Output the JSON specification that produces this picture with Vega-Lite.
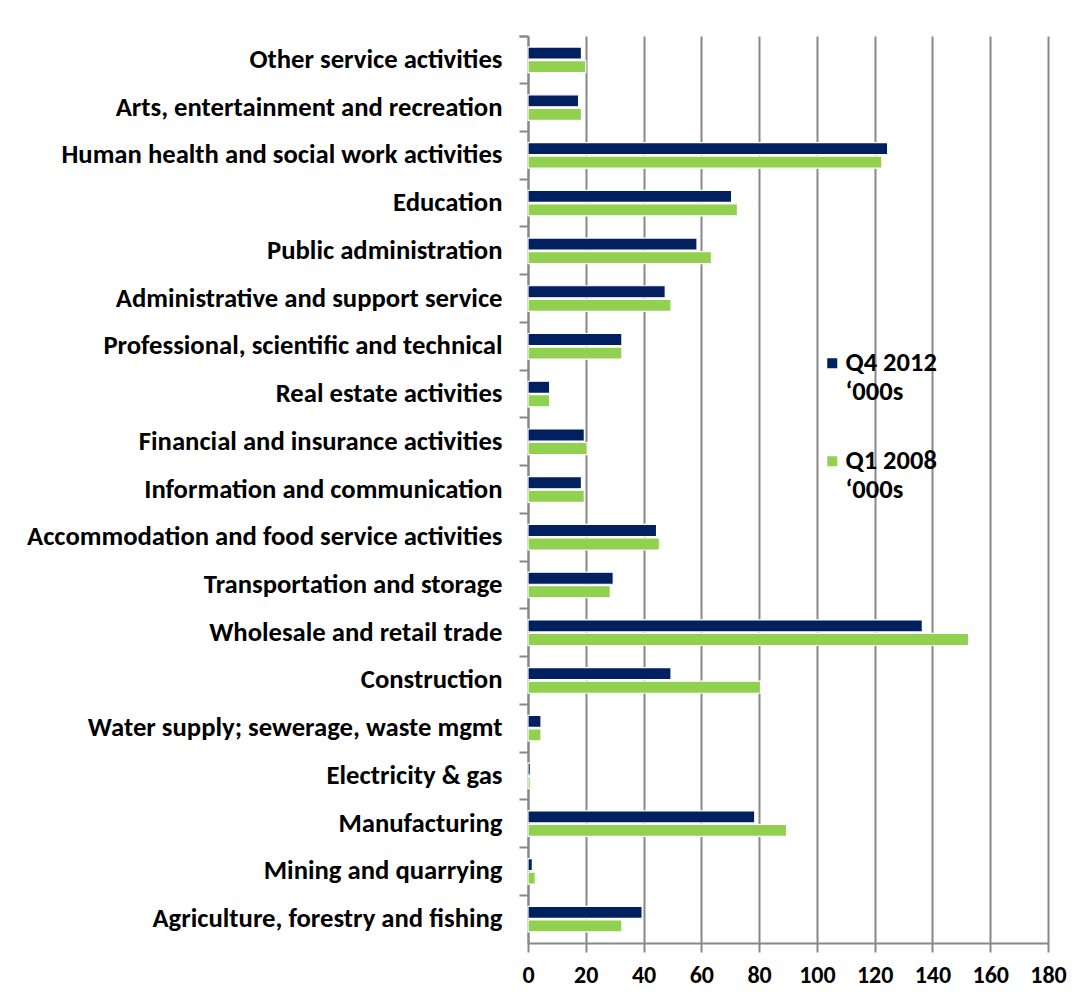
{
  "$schema": "https://vega.github.io/schema/vega-lite/v6.json",
  "autosize": "none",
  "width": 520,
  "height": 907,
  "padding": {"left": 528, "top": 36, "right": 43, "bottom": 59},
  "background": "white",
  "config": {"view": {"stroke": null}, "font": "Carlito, Lato"},
  "data": {"values": [
    {"category": "Other service activities", "series": "Q4 2012 ‘000s", "value": 18.5},
    {"category": "Other service activities", "series": "Q1 2008 ‘000s", "value": 20},
    {"category": "Arts, entertainment and recreation", "series": "Q4 2012 ‘000s", "value": 17.5},
    {"category": "Arts, entertainment and recreation", "series": "Q1 2008 ‘000s", "value": 18.5},
    {"category": "Human health and social work activities", "series": "Q4 2012 ‘000s", "value": 124.5},
    {"category": "Human health and social work activities", "series": "Q1 2008 ‘000s", "value": 122.5},
    {"category": "Education", "series": "Q4 2012 ‘000s", "value": 70.5},
    {"category": "Education", "series": "Q1 2008 ‘000s", "value": 72.5},
    {"category": "Public administration ", "series": "Q4 2012 ‘000s", "value": 58.5},
    {"category": "Public administration ", "series": "Q1 2008 ‘000s", "value": 63.5},
    {"category": "Administrative and support service", "series": "Q4 2012 ‘000s", "value": 47.5},
    {"category": "Administrative and support service", "series": "Q1 2008 ‘000s", "value": 49.5},
    {"category": "Professional, scientific and technical ", "series": "Q4 2012 ‘000s", "value": 32.5},
    {"category": "Professional, scientific and technical ", "series": "Q1 2008 ‘000s", "value": 32.5},
    {"category": "Real estate activities", "series": "Q4 2012 ‘000s", "value": 7.5},
    {"category": "Real estate activities", "series": "Q1 2008 ‘000s", "value": 7.5},
    {"category": "Financial and insurance activities", "series": "Q4 2012 ‘000s", "value": 19.5},
    {"category": "Financial and insurance activities", "series": "Q1 2008 ‘000s", "value": 20.5},
    {"category": "Information and communication", "series": "Q4 2012 ‘000s", "value": 18.5},
    {"category": "Information and communication", "series": "Q1 2008 ‘000s", "value": 19.5},
    {"category": "Accommodation and food service activities", "series": "Q4 2012 ‘000s", "value": 44.5},
    {"category": "Accommodation and food service activities", "series": "Q1 2008 ‘000s", "value": 45.5},
    {"category": "Transportation and storage", "series": "Q4 2012 ‘000s", "value": 29.5},
    {"category": "Transportation and storage", "series": "Q1 2008 ‘000s", "value": 28.5},
    {"category": "Wholesale and retail trade", "series": "Q4 2012 ‘000s", "value": 136.5},
    {"category": "Wholesale and retail trade", "series": "Q1 2008 ‘000s", "value": 152.5},
    {"category": "Construction", "series": "Q4 2012 ‘000s", "value": 49.5},
    {"category": "Construction", "series": "Q1 2008 ‘000s", "value": 80.5},
    {"category": "Water supply; sewerage, waste mgmt", "series": "Q4 2012 ‘000s", "value": 4.5},
    {"category": "Water supply; sewerage, waste mgmt", "series": "Q1 2008 ‘000s", "value": 4.5},
    {"category": "Electricity & gas", "series": "Q4 2012 ‘000s", "value": 0.8},
    {"category": "Electricity & gas", "series": "Q1 2008 ‘000s", "value": 0.8},
    {"category": "Manufacturing", "series": "Q4 2012 ‘000s", "value": 78.5},
    {"category": "Manufacturing", "series": "Q1 2008 ‘000s", "value": 89.5},
    {"category": "Mining and quarrying", "series": "Q4 2012 ‘000s", "value": 1.5},
    {"category": "Mining and quarrying", "series": "Q1 2008 ‘000s", "value": 2.5},
    {"category": "Agriculture, forestry and fishing", "series": "Q4 2012 ‘000s", "value": 39.5},
    {"category": "Agriculture, forestry and fishing", "series": "Q1 2008 ‘000s", "value": 32.5}
  ]},
  "mark": {"type": "bar", "stroke": "white", "strokeWidth": 1.2},
  "encoding": {
    "y": {
      "field": "category", "type": "nominal", "sort": null,
      "scale": {"paddingInner": 0, "paddingOuter": 0},
      "axis": {
        "title": null, "bandPosition": 0, "tickExtra": true,
        "labelFontSize": 26.7, "labelFontWeight": "bold",
        "labelColor": "black", "labelPadding": 17, "labelLimit": 600,
        "tickSize": 9, "tickColor": "#888888", "tickWidth": 2,
        "domainColor": "#888888", "domainWidth": 2, "grid": false
      }
    },
    "yOffset": {
      "field": "series", "type": "nominal",
      "sort": ["Q4 2012 ‘000s", "Q1 2008 ‘000s"],
      "scale": {"paddingInner": 0.11, "paddingOuter": 0.82}
    },
    "x": {
      "field": "value", "type": "quantitative",
      "scale": {"domain": [0, 180], "nice": false},
      "axis": {
        "title": null, "values": [0, 20, 40, 60, 80, 100, 120, 140, 160, 180],
        "labelFontSize": 24, "labelFontWeight": "bold", "labelColor": "black",
        "labelPadding": 11, "labelFlush": false, "labelOverlap": false,
        "tickSize": 9, "tickColor": "#888888", "tickWidth": 2,
        "domainColor": "#888888", "domainWidth": 2,
        "grid": true, "gridColor": "#888888", "gridWidth": 2
      }
    },
    "color": {
      "field": "series", "type": "nominal",
      "sort": ["Q4 2012 ‘000s", "Q1 2008 ‘000s"],
      "scale": {"range": ["#00205F", "#92D050"]},
      "legend": {
        "title": null, "orient": "none", "legendX": 291, "legendY": 314,
        "symbolType": "square", "symbolSize": 100, "symbolStrokeWidth": 0,
        "labelFontSize": 26.5, "labelFontWeight": "bold", "labelColor": "black",
        "labelExpr": "[slice(datum.label, 0, 7), slice(datum.label, 8)]",
        "labelBaseline": "middle", "labelOffset": 0,
        "rowPadding": 42, "labelLimit": 300,
        "encode": {"labels": {"update": {"dy": {"value": 16}, "lineHeight": {"value": 32}}}}
      }
    }
  }
}
